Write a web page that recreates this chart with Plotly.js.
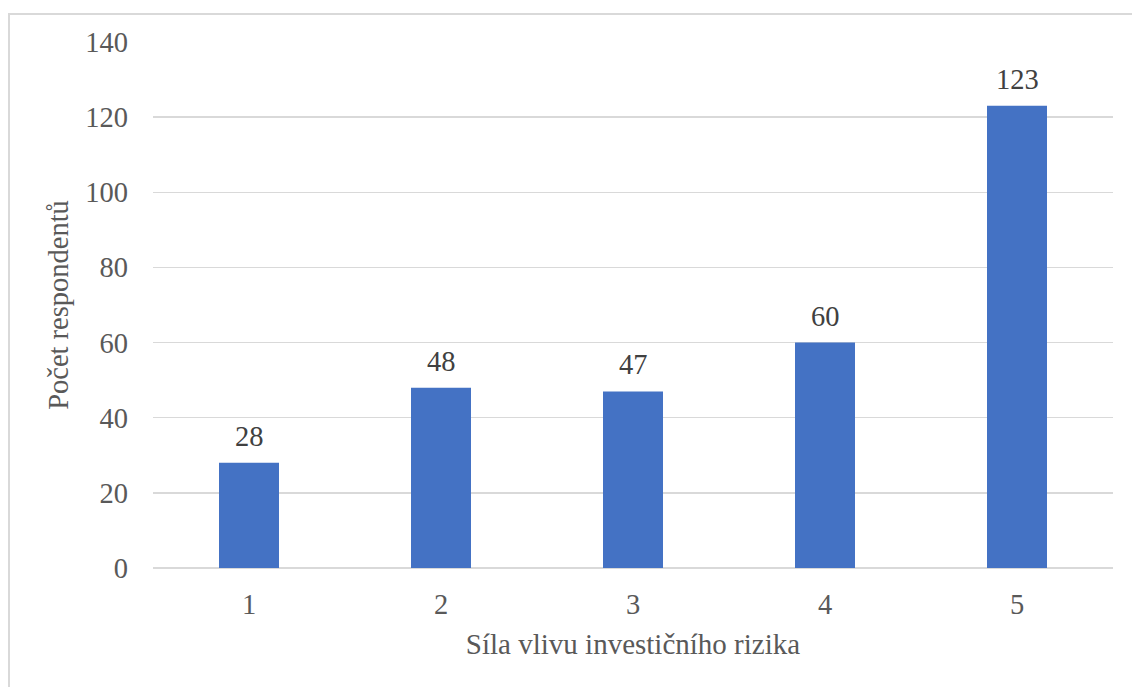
<!DOCTYPE html>
<html>
<head>
<meta charset="utf-8">
<script src="https://cdn.plot.ly/plotly-3.0.1.min.js"></script>
<style>
  html, body { margin: 0; padding: 0; background: #fff; overflow: hidden; }
  #frame { position: absolute; left: 8px; top: 13px; width: 1200px; height: 800px;
           border-left: 2px solid #d9d9d9; border-top: 2px solid #d9d9d9; }
  #chart { position: absolute; left: 0; top: 0; width: 1132px; height: 687px; }
</style>
</head>
<body>
<div id="frame"></div>
<div id="chart"></div>
<script>
// chart data
var riskLevels = ["1", "2", "3", "4", "5"];
var respondents = [28, 48, 47, 60, 123];
var yTicks = [0, 20, 40, 60, 80, 100, 120, 140];

var serif = "Liberation Serif";

var data = [{
    type: "bar",
    x: riskLevels,
    y: respondents,
    marker: { color: "#4472c4" },
    hoverinfo: "none"
}];

// value labels above the bars (category axis -> position by index)
var labels = riskLevels.map(function (c, i) {
    return {
        x: i, y: respondents[i], text: String(respondents[i]),
        xref: "x", yref: "y", showarrow: false,
        yanchor: "bottom", yshift: 9,
        font: { family: serif, size: 28.5, color: "#404040" }
    };
});

var layout = {
    width: 1132,
    height: 687,
    margin: { l: 153, r: 19, t: 42, b: 119 },
    paper_bgcolor: "rgba(0,0,0,0)",
    plot_bgcolor: "rgba(0,0,0,0)",
    bargap: 0.6875,
    showlegend: false,
    font: { family: serif, size: 28.5, color: "#595959" },
    xaxis: {
        type: "category",
        range: [-0.5, riskLevels.length - 0.5],
        showgrid: false,
        showline: false,
        zeroline: false,
        ticks: "",
        ticklabelstandoff: 16,
        tickfont: { family: serif, size: 28.5, color: "#595959" },
        title: { text: "Síla vlivu investičního rizika", standoff: 15,
                 font: { family: serif, size: 29, color: "#595959" } }
    },
    yaxis: {
        range: [0, 140],
        tickvals: yTicks,
        showgrid: true,
        gridcolor: "#d9d9d9",
        gridwidth: 1.5,
        zeroline: true,
        zerolinecolor: "#d9d9d9",
        zerolinewidth: 1.5,
        showline: false,
        ticks: "",
        ticklabelstandoff: 24,
        tickfont: { family: serif, size: 28.5, color: "#595959" },
        title: { text: "Počet respondentů", standoff: 8,
                 font: { family: serif, size: 28.5, color: "#595959" } }
    },
    annotations: labels
};

Plotly.newPlot("chart", data, layout, { staticPlot: true, displayModeBar: false });
</script>
</body>
</html>
